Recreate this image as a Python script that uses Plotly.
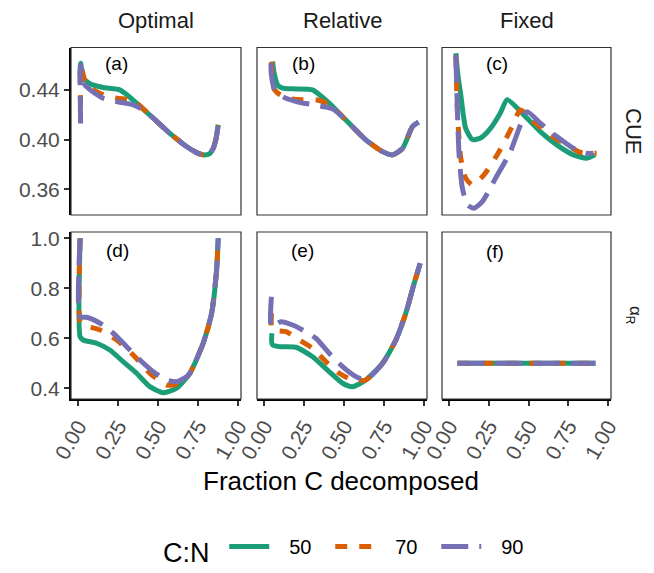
import plotly.graph_objects as go

# ---------------- data ----------------
cn_levels = ["50", "70", "90"]
colors = {"50": "#1b9e77", "70": "#d95f02", "90": "#7570b3"}
dashes = {"50": "solid", "70": "12px,12px", "90": "27px,11px"}

# (a) Optimal - CUE
a_x50 = [0.012, 0.015, 0.031, 0.08, 0.156, 0.26, 0.30, 0.365, 0.469, 0.573, 0.677, 0.74, 0.781, 0.82, 0.844, 0.862, 0.875]
a_y50 = [0.452, 0.4615, 0.4494, 0.4445, 0.4419, 0.440, 0.4365, 0.4293, 0.4172, 0.405, 0.3944, 0.3895, 0.3877, 0.3885, 0.393, 0.401, 0.4118]
a_x70 = [0.015, 0.015, 0.052, 0.156, 0.24, 0.323, 0.365, 0.469, 0.573, 0.677, 0.74, 0.781, 0.82, 0.844, 0.862, 0.875]
a_y70 = [0.426, 0.4605, 0.444, 0.436, 0.4333, 0.432, 0.4293, 0.4172, 0.405, 0.3944, 0.3895, 0.3877, 0.3885, 0.393, 0.401, 0.4118]
a_x90 = [0.015, 0.015, 0.042, 0.156, 0.26, 0.344, 0.406, 0.469, 0.573, 0.677, 0.74, 0.781, 0.82, 0.844, 0.862, 0.875]
a_y90 = [0.413, 0.460, 0.444, 0.4333, 0.430, 0.428, 0.424, 0.4172, 0.405, 0.3944, 0.3895, 0.3877, 0.3885, 0.393, 0.401, 0.4118]

# (b) Relative - CUE
b_x50 = [0.0525, 0.06, 0.084, 0.115, 0.2, 0.302, 0.406, 0.51, 0.635, 0.74, 0.8025, 0.865, 0.927, 0.965]
b_y50 = [0.4628, 0.455, 0.444, 0.4414, 0.4408, 0.440, 0.4293, 0.4158, 0.3998, 0.3903, 0.3877, 0.393, 0.4105, 0.414]
b_x70 = [0.047, 0.05, 0.06, 0.1, 0.156, 0.24, 0.323, 0.406, 0.51, 0.635, 0.74, 0.8025, 0.865, 0.927, 0.965]
b_y70 = [0.4625, 0.452, 0.441, 0.436, 0.433, 0.432, 0.432, 0.4285, 0.4158, 0.3998, 0.3903, 0.3877, 0.393, 0.4105, 0.414]
b_x90 = [0.042, 0.045, 0.0625, 0.115, 0.219, 0.3125, 0.365, 0.43, 0.51, 0.635, 0.74, 0.8025, 0.865, 0.927, 0.965]
b_y90 = [0.4615, 0.452, 0.4414, 0.4346, 0.430, 0.428, 0.4266, 0.4245, 0.4158, 0.3998, 0.3903, 0.3877, 0.393, 0.4105, 0.414]

# (c) Fixed - CUE
c_x50 = [0.042, 0.055, 0.073, 0.104, 0.146, 0.2, 0.26, 0.32, 0.365, 0.469, 0.573, 0.677, 0.78, 0.865, 0.917]
c_y50 = [0.4695, 0.452, 0.436, 0.409, 0.400, 0.4015, 0.409, 0.421, 0.432, 0.4199, 0.4064, 0.3957, 0.3877, 0.385, 0.3877]
c_x70 = [0.042, 0.052, 0.073, 0.104, 0.146, 0.219, 0.3125, 0.396, 0.448, 0.531, 0.635, 0.74, 0.823, 0.927]
c_y70 = [0.468, 0.4225, 0.385, 0.369, 0.3635, 0.3716, 0.390, 0.4105, 0.4239, 0.4145, 0.4038, 0.3957, 0.3898, 0.389]
c_x90 = [0.042, 0.0625, 0.083, 0.115, 0.156, 0.208, 0.292, 0.385, 0.448, 0.49, 0.573, 0.677, 0.78, 0.865, 0.907]
c_y90 = [0.468, 0.3877, 0.361, 0.3474, 0.3448, 0.350, 0.369, 0.3903, 0.4118, 0.4225, 0.4132, 0.4024, 0.393, 0.389, 0.389]

# (d) Optimal - alpha_R
d_x50 = [0.012, 0.012, 0.031, 0.115, 0.198, 0.281, 0.365, 0.448, 0.531, 0.615, 0.698, 0.781, 0.834, 0.865, 0.875]
d_y50 = [1.0, 0.606, 0.593, 0.58, 0.553, 0.5065, 0.46, 0.4064, 0.3825, 0.40, 0.46, 0.58, 0.70, 0.873, 1.0]
d_x70 = [0.012, 0.012, 0.031, 0.136, 0.24, 0.344, 0.448, 0.5525, 0.594, 0.656, 0.698, 0.781, 0.834, 0.865, 0.875]
d_y70 = [1.0, 0.665, 0.653, 0.633, 0.593, 0.533, 0.46, 0.413, 0.413, 0.4264, 0.46, 0.58, 0.70, 0.873, 1.0]
d_x90 = [0.012, 0.012, 0.052, 0.136, 0.219, 0.3025, 0.386, 0.469, 0.5525, 0.615, 0.6775, 0.698, 0.781, 0.834, 0.865, 0.875]
d_y90 = [1.0, 0.686, 0.684, 0.66, 0.62, 0.5664, 0.513, 0.4664, 0.433, 0.4264, 0.4464, 0.46, 0.58, 0.70, 0.873, 1.0]

# (e) Relative - alpha_R
e_x50 = [0.048, 0.05, 0.094, 0.198, 0.3025, 0.406, 0.49, 0.5525, 0.635, 0.74, 0.823, 0.885, 0.9375, 0.975]
e_y50 = [0.62, 0.575, 0.5664, 0.564, 0.526, 0.4664, 0.42, 0.4064, 0.4332, 0.50, 0.593, 0.70, 0.82, 0.90]
e_x70 = [0.046, 0.05, 0.136, 0.219, 0.3025, 0.3855, 0.469, 0.5525, 0.635, 0.74, 0.823, 0.885, 0.9375, 0.975]
e_y70 = [0.70, 0.635, 0.6264, 0.593, 0.56, 0.5064, 0.46, 0.433, 0.4332, 0.50, 0.593, 0.70, 0.82, 0.90]
e_x90 = [0.045, 0.045, 0.104, 0.177, 0.24, 0.323, 0.406, 0.49, 0.573, 0.635, 0.74, 0.823, 0.885, 0.9375, 0.975]
e_y90 = [0.766, 0.646, 0.666, 0.653, 0.633, 0.60, 0.54, 0.4864, 0.4464, 0.4332, 0.50, 0.593, 0.70, 0.82, 0.90]

# (f) Fixed - alpha_R (constant)
f_x = [0.052, 0.92]
f_y = [0.5, 0.5]

panels = [
    (1, 1, "(a)", {"50": (a_x50, a_y50), "70": (a_x70, a_y70), "90": (a_x90, a_y90)}),
    (1, 2, "(b)", {"50": (b_x50, b_y50), "70": (b_x70, b_y70), "90": (b_x90, b_y90)}),
    (1, 3, "(c)", {"50": (c_x50, c_y50), "70": (c_x70, c_y70), "90": (c_x90, c_y90)}),
    (2, 1, "(d)", {"50": (d_x50, d_y50), "70": (d_x70, d_y70), "90": (d_x90, d_y90)}),
    (2, 2, "(e)", {"50": (e_x50, e_y50), "70": (e_x70, e_y70), "90": (e_x90, e_y90)}),
    (2, 3, "(f)", {"50": (f_x, f_y), "70": (f_x, f_y), "90": (f_x, f_y)}),
]
col_titles = ["Optimal", "Relative", "Fixed"]
row_titles = ["CUE", "α<sub>R</sub>"]
legend_title = "C:N"
x_ticks = [0, 0.25, 0.5, 0.75, 1.0]
x_ticktext = ["0.00", "0.25", "0.50", "0.75", "1.00"]
cue_ticks = [0.36, 0.40, 0.44]
cue_ticktext = ["0.36", "0.40", "0.44"]
alpha_ticks = [0.4, 0.6, 0.8, 1.0]
alpha_ticktext = ["0.4", "0.6", "0.8", "1.0"]

# ---------------- layout geometry ----------------
W, H = 654, 573
col_px = [(71, 241), (257, 427), (442, 611)]
row_px = [(47.5, 215), (232, 399)]
letter_pos = [(0.265, 0.907), (0.274, 0.907), (0.324, 0.907),
              (0.273, 0.892), (0.268, 0.892), (0.314, 0.885)]
x_range = [-0.045, 1.0175]
y_ranges = [[0.3393, 0.4741], [0.357, 1.025]]
FONT = "Liberation Sans, Arial, Helvetica, sans-serif"
GAP = "\u2002\u2005"   # spacing between legend key and its label

fig = go.Figure()
layout_axes = {}
annotations = []
shapes = []

for idx, (r, c, letter, series) in enumerate(panels):
    n = idx + 1
    xa = "x" if n == 1 else f"x{n}"
    ya = "y" if n == 1 else f"y{n}"
    for cn in cn_levels:
        xs, ys = series[cn]
        fig.add_trace(go.Scatter(
            x=xs, y=ys, mode="lines", xaxis=xa, yaxis=ya,
            line=dict(color=colors[cn], width=5, dash=dashes[cn], shape="spline", smoothing=0.6),
            name=GAP + cn, legendgroup=cn, showlegend=(n == 1),
        ))
    x0, x1 = col_px[c - 1]
    y0, y1 = row_px[r - 1]
    xdom = [x0 / W, x1 / W]
    ydom = [1 - y1 / H, 1 - y0 / H]
    bottom = (r == 2)
    left = (c == 1)
    layout_axes["xaxis" if n == 1 else f"xaxis{n}"] = dict(
        domain=xdom, range=x_range, anchor=ya, showgrid=False, zeroline=False, automargin=False,
        tickvals=x_ticks, ticktext=x_ticktext, showticklabels=bottom,
        ticks="outside" if bottom else "", ticklen=5, tickwidth=1.5, tickcolor="#333333",
        tickangle=-60, tickfont=dict(size=21, color="#4d4d4d", family=FONT),
        showline=bottom, linewidth=2, linecolor="black",
    )
    yt = cue_ticks if r == 1 else alpha_ticks
    ytt = cue_ticktext if r == 1 else alpha_ticktext
    layout_axes["yaxis" if n == 1 else f"yaxis{n}"] = dict(
        domain=ydom, range=y_ranges[r - 1], anchor=xa, showgrid=False, zeroline=False, automargin=False,
        tickvals=yt, ticktext=ytt, showticklabels=left,
        ticks="outside" if left else "", ticklen=5, tickwidth=1.5, tickcolor="#333333",
        tickfont=dict(size=21, color="#4d4d4d", family=FONT),
        showline=left, linewidth=2, linecolor="black",
    )
    shapes.append(dict(type="rect", xref=f"{xa} domain", yref=f"{ya} domain",
                       x0=0, x1=1, y0=0, y1=1, line=dict(color="#333333", width=1.2),
                       fillcolor="rgba(0,0,0,0)", layer="above"))
    lx, ly = letter_pos[idx]
    annotations.append(dict(text=letter, xref=f"{xa} domain", yref=f"{ya} domain",
                            x=lx, y=ly, xanchor="center", yanchor="middle", showarrow=False,
                            font=dict(size=19, color="black", family=FONT)))

for c, t in enumerate(col_titles):
    x0, x1 = col_px[c]
    annotations.append(dict(text=t, xref="paper", yref="paper", x=(x0 + x1) / 2 / W,
                            y=1 - 21 / H, showarrow=False, xanchor="center", yanchor="middle",
                            font=dict(size=22, color="#1a1a1a", family=FONT)))
annotations.append(dict(text=row_titles[0], xref="paper", yref="paper", x=634 / W,
                        y=1 - 131 / H, showarrow=False, textangle=90,
                        xanchor="center", yanchor="middle",
                        font=dict(size=22, color="#1a1a1a", family=FONT)))
annotations.append(dict(text=row_titles[1], xref="paper", yref="paper", x=634 / W,
                        y=1 - 315 / H, showarrow=False, textangle=90,
                        xanchor="center", yanchor="middle",
                        font=dict(size=17, color="#1a1a1a", family=FONT)))
annotations.append(dict(text="Fraction C decomposed", xref="paper", yref="paper", x=341 / W,
                        y=1 - 481 / H, showarrow=False, xanchor="center", yanchor="middle",
                        font=dict(size=26, color="black", family=FONT)))

fig.update_layout(
    width=W, height=H, margin=dict(l=0, r=0, t=0, b=0, pad=0),
    paper_bgcolor="white", plot_bgcolor="white",
    font=dict(family=FONT),
    annotations=annotations, shapes=shapes,
    legend=dict(orientation="h", x=161 / W, y=0, xanchor="left", yanchor="bottom",
                title=dict(text=legend_title + "\u2005", font=dict(size=27, color="black", family=FONT),
                           side="left"),
                font=dict(size=20, color="black", family=FONT), bgcolor="rgba(0,0,0,0)",
                itemwidth=40, tracegroupgap=0, entrywidth=51, entrywidthmode="pixels"),
    **layout_axes,
)
fig.write_html("out.html")
